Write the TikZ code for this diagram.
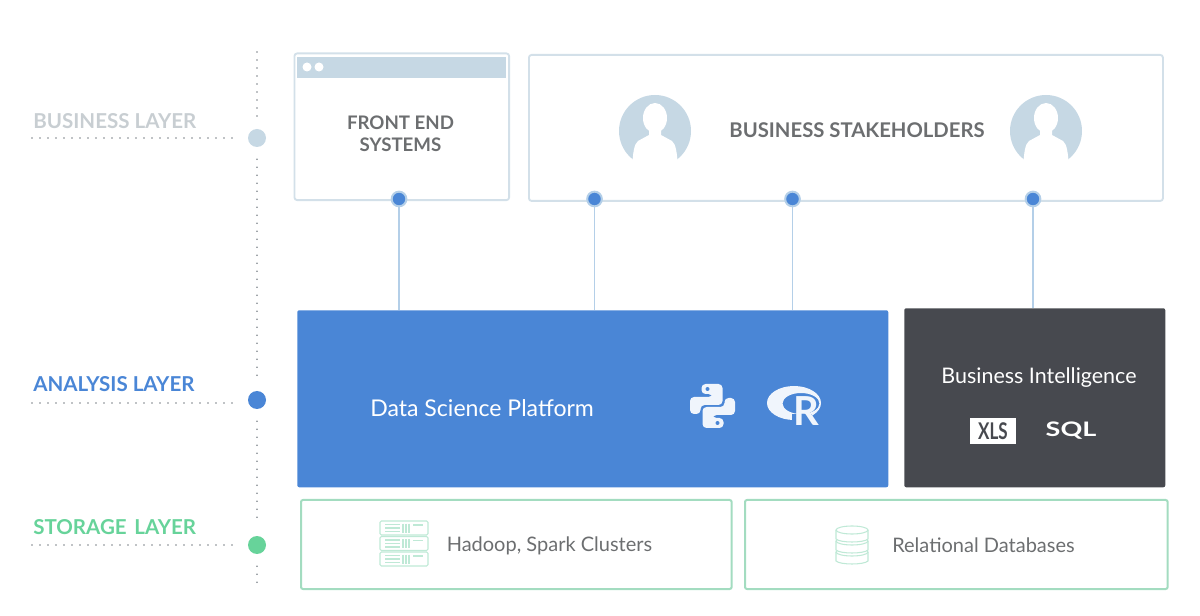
\documentclass[tikz,border=0pt]{standalone}
\usepackage{fontspec}
\setmainfont{Lato}
\usepackage{graphicx}
\usepackage{xcolor}
\usetikzlibrary{positioning, calc, fit}
\definecolor{paleblue}{HTML}{C6D8E4}
\definecolor{edgeblue}{HTML}{D3E0E9}
\definecolor{linkblue}{HTML}{B4CFE8}
\definecolor{platblue}{HTML}{4A86D6}
\definecolor{slate}{HTML}{47494F}
\definecolor{mint}{HTML}{67D39A}
\definecolor{mintedge}{HTML}{A3DCC0}
\definecolor{mintsoft}{HTML}{BFE9D6}
\definecolor{inkgrey}{HTML}{6C6E70}
\definecolor{bizgrey}{HTML}{C8CED2}
\definecolor{dotgrey}{HTML}{7F858C}
\tikzset{
  every node/.style={font=\fontsize{15}{17}\selectfont, inner sep=0pt},
  upperbox/.style={draw=edgeblue, line width=1.4pt, rounded corners=2pt, anchor=north west},
  lowerbox/.style={draw=mintedge, line width=1.5pt, rounded corners=1.5pt, anchor=north west},
  solidbox/.style={rounded corners=1.5pt, anchor=north west, text=white},
  layerlabel/.style={anchor=west, font=\fontsize{15.4}{17}\selectfont\bfseries},
  layerdot/.style={circle, minimum size=13.5pt},
  pindot/.style={circle, fill=platblue, draw=linkblue, line width=1.5pt, minimum size=11pt},
  dotline/.style={draw=dotgrey, line width=1.4pt, line cap=round, dash pattern=on 0pt off 6pt},
  linkline/.style={draw=linkblue, line width=1.1pt},
  personicon/.pic={
    \fill[paleblue] (0,0) circle (36);
    \fill[white] (-6,-6) -- (-6,4) -- (-17,10) .. controls (-21,13) and (-22,22) .. (-23,36)
      -- (23,36) .. controls (22,22) and (21,13) .. (17,10) -- (6,4) -- (6,-6) -- cycle;
    \fill[white] (0,-13) ellipse (12 and 15);
  },
  serverrow/.pic={
    \draw[draw=mintsoft, line width=.8pt, rounded corners=1pt] (0,0) rectangle (48,14);
    \draw[draw=mintsoft, line width=.8pt] (5,3.5) -- (20,3.5) (5,7) -- (20,7) (5,10.5) -- (20,10.5)
      (23,2.5) -- (23,11.5) (26,2.5) -- (26,11.5) (29,2.5) -- (29,11.5) (33,4) -- (43,4);
  },
  dbdisc/.pic={
    \draw[draw=mintsoft, line width=.8pt, fill=white] (-16,0) -- (-16,9) .. controls (-12,13) and (12,13) .. (16,9) -- (16,0);
    \draw[draw=mintsoft, line width=.8pt] (0,0) ellipse (16 and 4);
  }
}
\begin{document}
\begin{tikzpicture}[x=.75pt, y=-.75pt]
  \useasboundingbox (0,0) rectangle (1200,616);

  % layer rail
  \coordinate (railtop) at (257,52);
  \coordinate (railend) at (257,585);
  \node[layerdot, fill=paleblue] (bizdot) at (257,138) {};
  \node[layerdot, fill=platblue] (anadot) at (257,400) {};
  \node[layerdot, fill=mint] (stodot) at (257,545) {};
  \draw[dotline, shorten >=9pt] (railtop) -- (bizdot);
  \draw[dotline, shorten <=9pt, shorten >=9pt] (bizdot) -- (anadot);
  \draw[dotline, shorten <=9pt, shorten >=9pt] (anadot) -- (stodot);
  \draw[dotline, shorten <=9pt] (stodot) -- (railend);

  \coordinate (bizstart) at (32,138);
  \coordinate (anastart) at (32,403);
  \coordinate (stostart) at (32,545);
  \coordinate (anastop) at (232,403);
  \coordinate (stostop) at (232,545);
  \draw[dotline, shorten >=8pt] (bizstart) -- (bizdot);
  \draw[dotline] (anastart) -- (anastop);
  \draw[dotline] (stostart) -- (stostop);
  \node[layerlabel, text=bizgrey] (bizlabel) at (33,121) {BUSINESS LAYER};
  \node[layerlabel, text=platblue] (analabel) at (33,384) {ANALYSIS LAYER};
  \node[layerlabel, text=mint] (stolabel) at (33,527) {STORAGE\hspace{2pt} LAYER};

  % business layer
  \node[upperbox, minimum width=161pt, minimum height=110pt] (frontbox) at (293.5,52.5) {};
  \fill[paleblue] (297,57) rectangle (506,78);
  \fill[white] (307,67) circle (4.5) (319,67) circle (4.5);
  \node[align=center, text=inkgrey, font=\fontsize{14}{16.5}\selectfont\bfseries] (fronttext) at (400.5,134) {FRONT END\\SYSTEMS};
  \node[upperbox, minimum width=475.5pt, minimum height=109.5pt] (stakebox) at (528,54) {};
  \pic at (655,131) {personicon};
  \pic at (1046,131) {personicon};
  \node[text=inkgrey, font=\fontsize{15.2}{17}\selectfont\bfseries] (staketext) at (857,130) {BUSINESS STAKEHOLDERS};

  % analysis layer
  \node[solidbox, fill=platblue, minimum width=443.25pt, minimum height=132.75pt] (platbox) at (297,310) {};
  \node[text=white, anchor=west, font=\fontsize{17.3}{19}\selectfont] (plattext) at (370,408) {Data Science Platform};
  \node[solidbox, fill=slate, minimum width=195.75pt, minimum height=134.25pt] (bibox) at (904,308) {};
  \node[text=white, font=\fontsize{16.1}{18}\selectfont] (bitext) at (1039,378) {Business Intelligence};
  \node[fill=white, text=slate, minimum width=35pt, minimum height=20pt, font=\fontsize{15}{16}\selectfont\bfseries] (xlsbox) at (993,431) {\scalebox{.85}[1.15]{XLS}};
  \node[text=white, font=\fontsize{15}{16}\selectfont\bfseries] (sqltext) at (1071,431) {\scalebox{1.35}[1]{SQL}};

  % python mark
  \begin{scope}[shift={(712.5,406)}]
    \foreach \turn in {0,180}{
      \fill[white!92!platblue, rotate=\turn, rounded corners=3pt]
        (-11,-22) -- (10,-22) -- (10,-1) -- (-12,-1) -- (-12,8) -- (-22.5,8)
        -- (-22.5,-9) -- (0,-9) -- (0,-12) -- (-11,-12) -- cycle;
      \fill[platblue, rotate=\turn] (-5,-17) circle (2);
    }
  \end{scope}

  % R mark
  \fill[white!92!platblue, even odd rule] (794,403) ellipse (27 and 17) (801,403.5) ellipse (18.5 and 10.5);
  \fill[platblue] (792,414) rectangle (812,424);
  \node[text=white!92!platblue, font=\fontsize{30}{30}\selectfont\bfseries] (rletter) at (806,411) {R};

  % storage layer
  \node[lowerbox, minimum width=323pt, minimum height=66.75pt] (hadoopbox) at (300,499) {};
  \foreach \rowy in {521,536.5,552}{
    \pic at (380,\rowy) {serverrow};
  }
  \node[anchor=west, text=inkgrey] (hadooptext) at (446.5,546) {Hadoop, Spark Clusters};
  \node[lowerbox, minimum width=317pt, minimum height=66.75pt] (relbox) at (744,499) {};
  \foreach \discy in {552,541,530}{
    \pic at (852,\discy) {dbdisc};
  }
  \node[anchor=west, text=inkgrey] (reltext) at (892,545) {Relational Databases};

  % links
  \node[pindot] (pina) at (399,199) {};
  \node[pindot] (pinb) at (594.5,199) {};
  \node[pindot] (pinc) at (792.5,199) {};
  \node[pindot] (pind) at (1033,199) {};
  \draw[linkline] (pina) -- (pina |- platbox.north);
  \draw[linkline] (pinb) -- (pinb |- platbox.north);
  \draw[linkline] (pinc) -- (pinc |- platbox.north);
  \draw[linkline] (pind) -- (pind |- bibox.north);
\end{tikzpicture}
\end{document}
